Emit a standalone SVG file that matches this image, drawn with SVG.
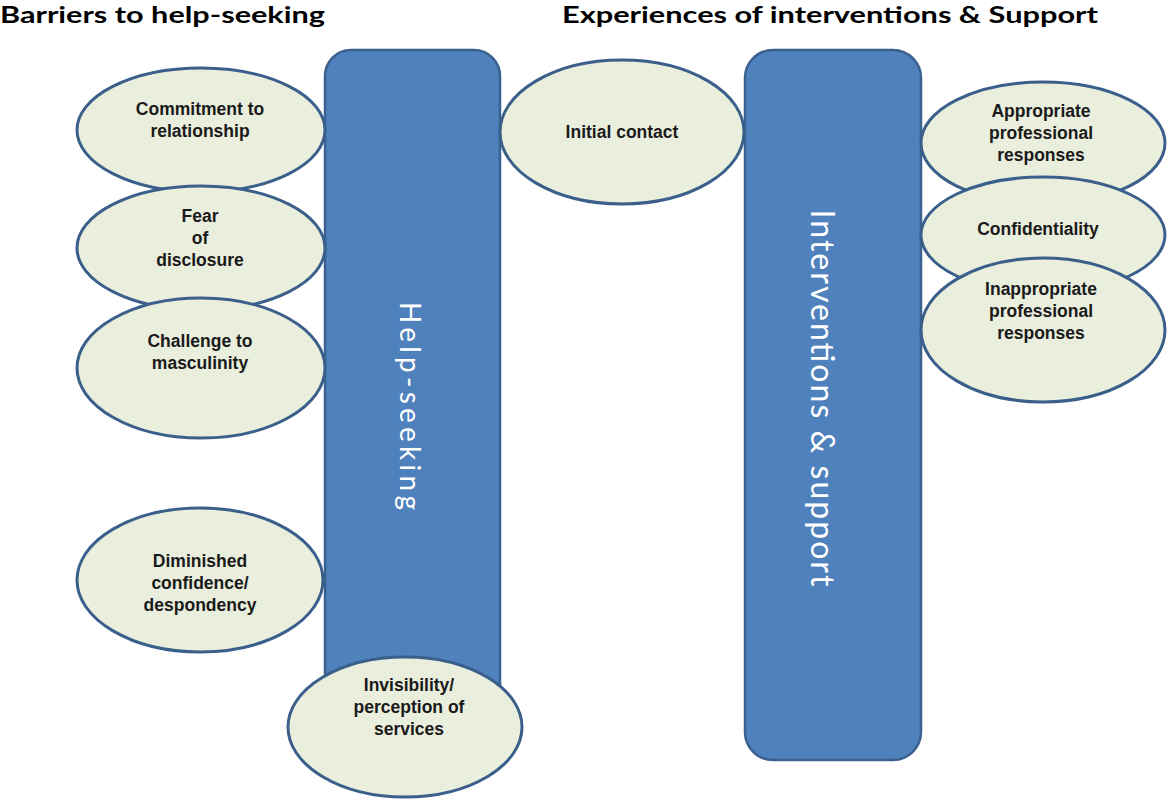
<svg xmlns="http://www.w3.org/2000/svg" width="1168" height="800" viewBox="0 0 1168 800">
<style>
.bar{fill:#4F81BD;stroke:#3B6190;stroke-width:2.5}
.oval{fill:#EAEEDD;stroke:#3A5F8A;stroke-width:3}
.lbl{font-family:"Liberation Sans",Arial,sans-serif;font-weight:bold;font-size:17.5px;fill:#1a1a1a;text-anchor:middle}
.title{font-family:Lato,"Liberation Sans",sans-serif;font-weight:bold;font-size:23px;fill:#000}
.vert{font-family:Lato,"Open Sans",sans-serif;fill:#fff;text-anchor:middle}
</style>
<rect width="1168" height="800" fill="#fff"/>
<text class="title" x="0" y="23" textLength="325" lengthAdjust="spacingAndGlyphs">Barriers to help-seeking</text>
<text class="title" x="562" y="23" textLength="536" lengthAdjust="spacingAndGlyphs">Experiences of interventions &amp; Support</text>

<g id="help-seeking">
<rect class="bar" x="325" y="50" width="175" height="670" rx="26"/>
<text class="vert" font-size="28" transform="translate(400,406) rotate(90)" textLength="208">Help-seeking</text>
</g>
<g id="interventions-support">
<rect class="bar" x="745" y="50" width="176" height="710" rx="28"/>
<text class="vert" font-size="32" transform="translate(811,398) rotate(90)" textLength="377">Interventions &amp; support</text>
</g>

<g id="commitment">
<ellipse class="oval" cx="201" cy="130" rx="124" ry="62"/>
<text class="lbl" x="200"><tspan x="200" y="115">Commitment to</tspan><tspan x="200" y="137">relationship</tspan></text>
</g>
<g id="fear">
<ellipse class="oval" cx="201" cy="248" rx="124" ry="62"/>
<text class="lbl"><tspan x="200" y="222">Fear</tspan><tspan x="200" y="244">of</tspan><tspan x="200" y="266">disclosure</tspan></text>
</g>
<g id="challenge">
<ellipse class="oval" cx="201" cy="368" rx="124" ry="70"/>
<text class="lbl"><tspan x="200" y="347">Challenge to</tspan><tspan x="200" y="369">masculinity</tspan></text>
</g>
<g id="diminished">
<ellipse class="oval" cx="200" cy="580" rx="123" ry="72"/>
<text class="lbl"><tspan x="200" y="567">Diminished</tspan><tspan x="200" y="589">confidence/</tspan><tspan x="200" y="611">despondency</tspan></text>
</g>
<g id="invisibility">
<ellipse class="oval" cx="405" cy="727" rx="117" ry="70"/>
<text class="lbl"><tspan x="409" y="691">Invisibility/</tspan><tspan x="409" y="713">perception of</tspan><tspan x="409" y="735">services</tspan></text>
</g>
<g id="initial-contact">
<ellipse class="oval" cx="622" cy="132" rx="122" ry="72"/>
<text class="lbl" x="622" y="138">Initial contact</text>
</g>
<g id="appropriate">
<ellipse class="oval" cx="1043" cy="143" rx="122" ry="61"/>
<text class="lbl"><tspan x="1041" y="117">Appropriate</tspan><tspan x="1041" y="139">professional</tspan><tspan x="1041" y="161">responses</tspan></text>
</g>
<g id="confidentiality">
<ellipse class="oval" cx="1043" cy="235" rx="122" ry="58"/>
<text class="lbl" x="1038" y="235" font-size="20">Confidentiality</text>
</g>
<g id="inappropriate">
<ellipse class="oval" cx="1043" cy="330" rx="122" ry="72"/>
<text class="lbl"><tspan x="1041" y="295">Inappropriate</tspan><tspan x="1041" y="317">professional</tspan><tspan x="1041" y="339">responses</tspan></text>
</g>
<g id="connectors"/>
</svg>
